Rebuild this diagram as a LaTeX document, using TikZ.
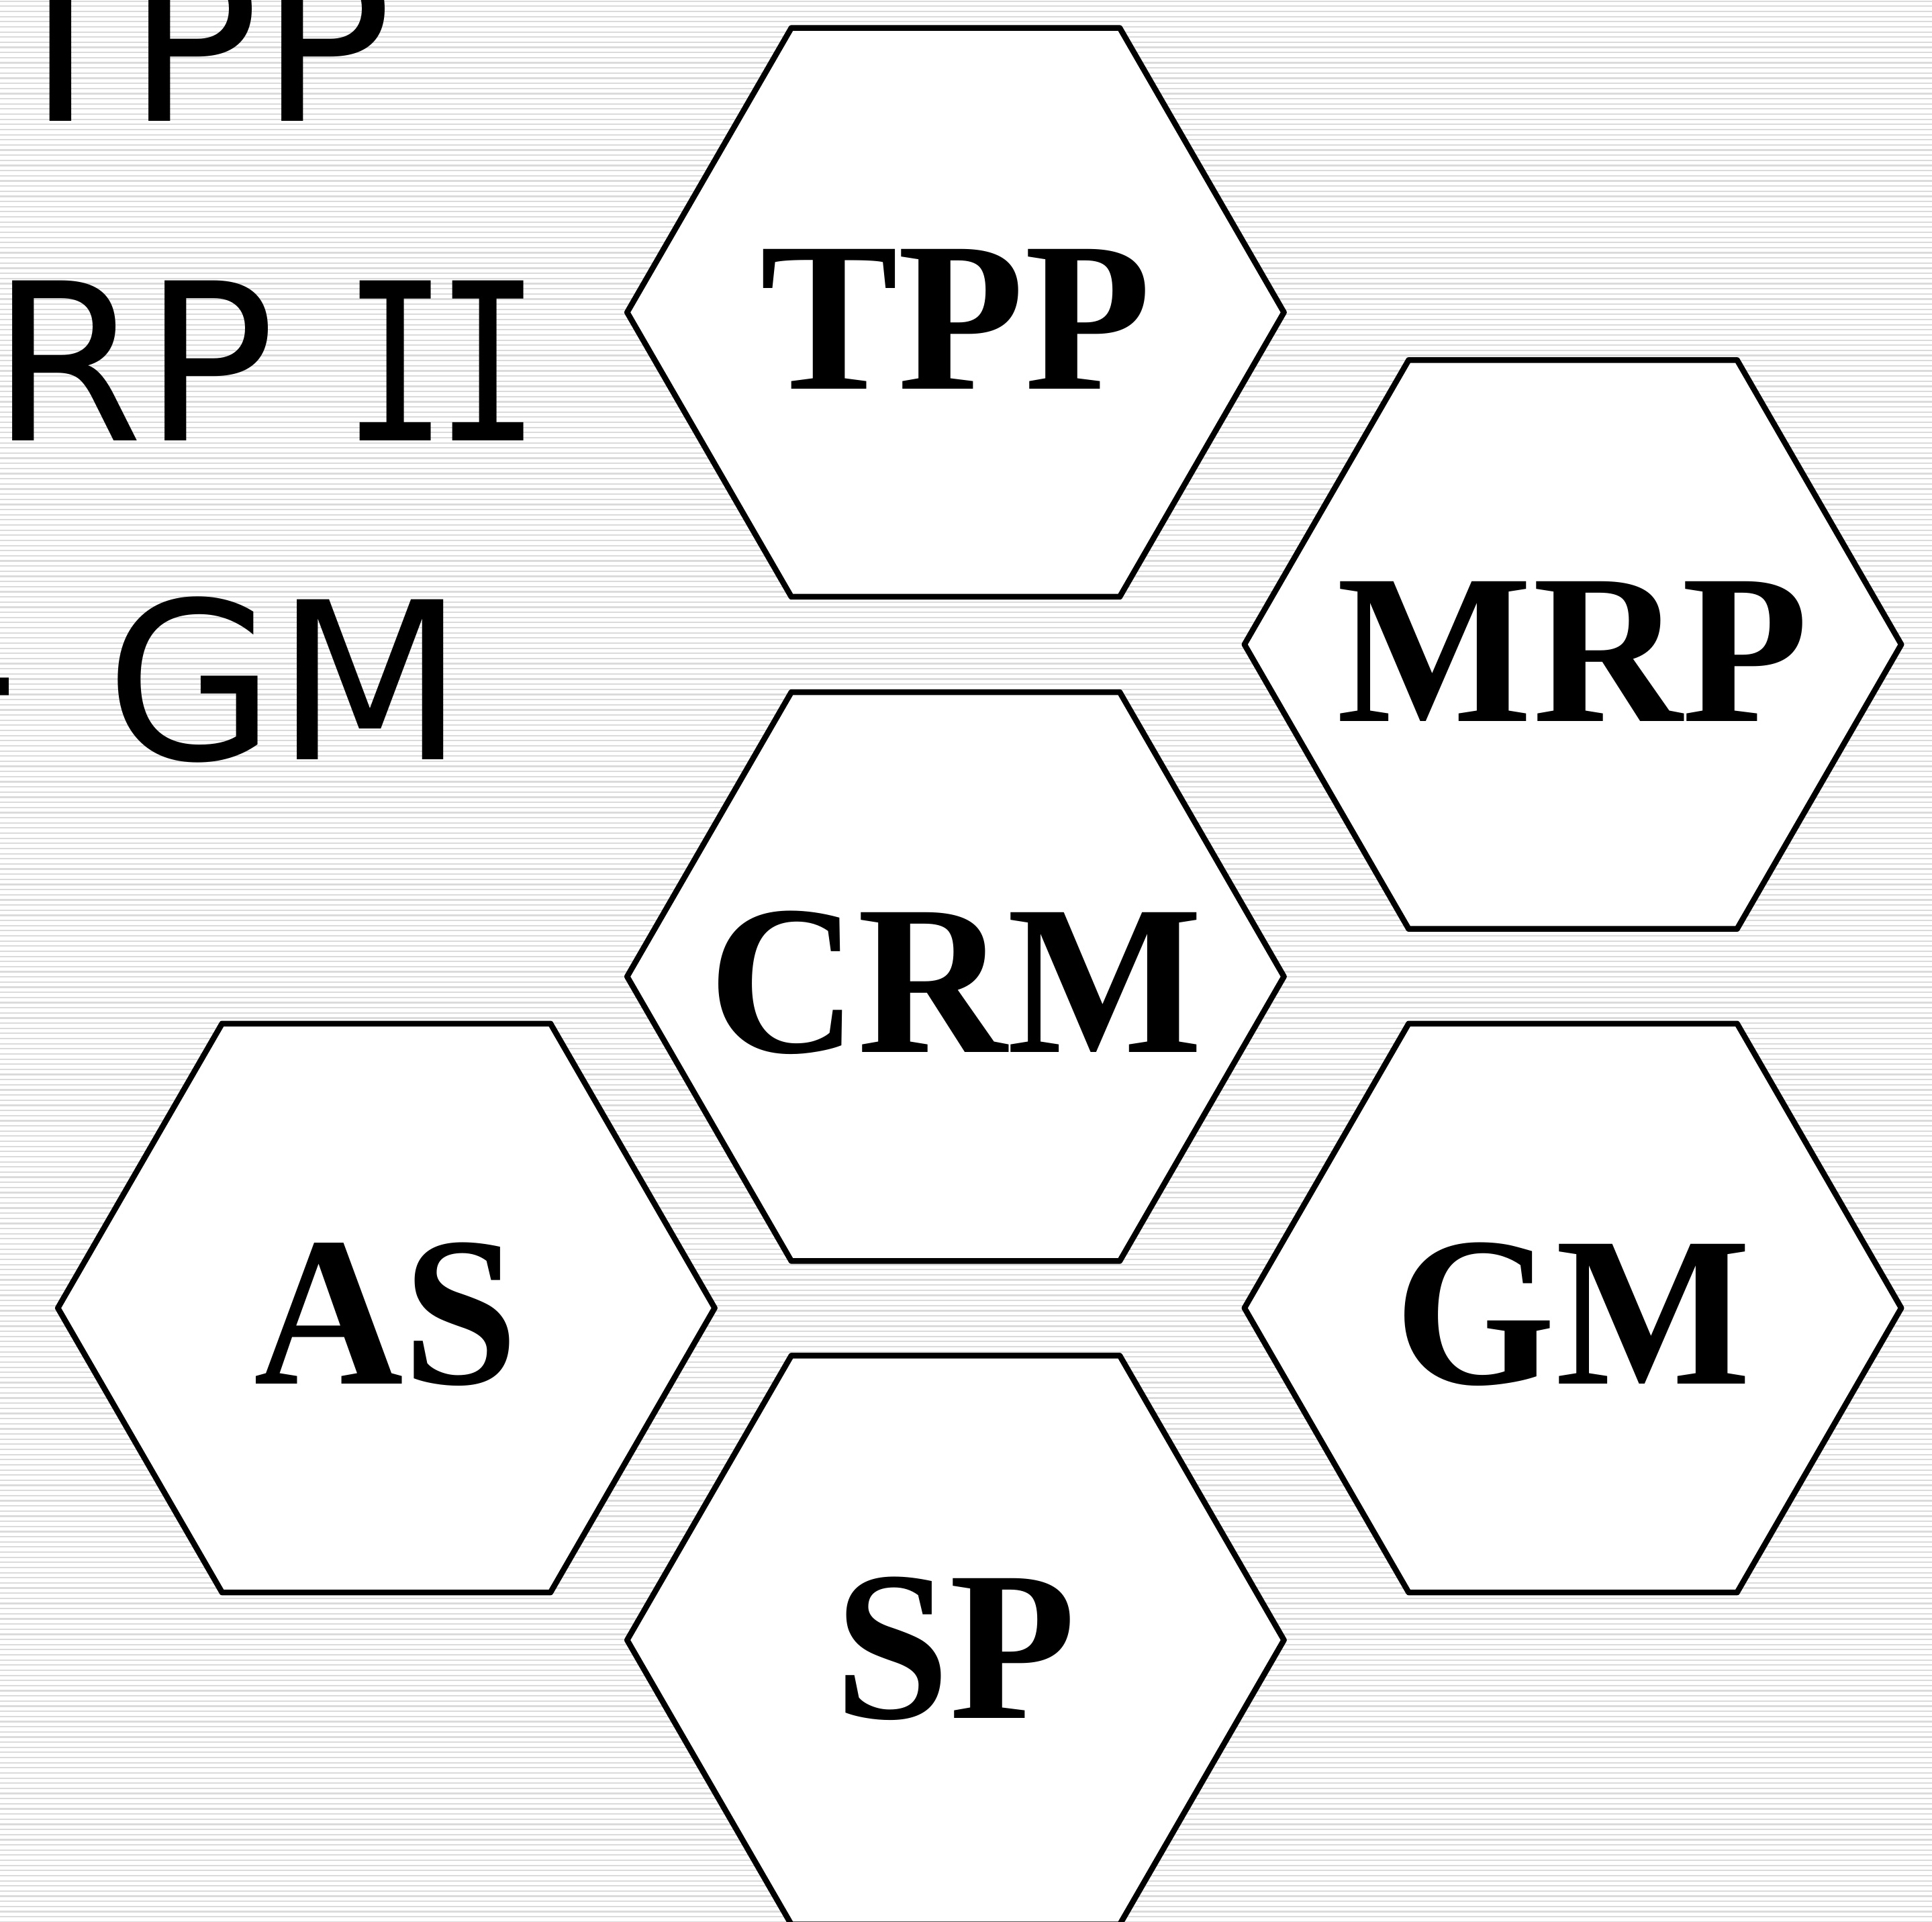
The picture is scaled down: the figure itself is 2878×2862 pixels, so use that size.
\documentclass[tikz,border=0pt]{standalone}
\usepackage{fontspec}
\usetikzlibrary{shapes.geometric,calc}
\newfontfamily\hexfont{Liberation Serif Bold}[FakeStretch=0.97]
\newfontfamily\sidefont{DejaVu Sans}
\newfontfamily\sidemono{DejaVu Sans Mono}
\newcommand{\serifI}{\scalebox{0.8}[1]{\sidemono I}}
\definecolor{stripe}{RGB}{219,219,219}
\begin{document}
\begin{tikzpicture}[x=1pt,y=-1pt,
  hexa/.style={regular polygon, regular polygon sides=6, minimum size=978.4pt,
    draw=black, line width=8.5pt, line join=round, fill=white, inner sep=0pt, outer sep=0pt},
  hexlabel/.style={anchor=base, inner sep=0pt, font=\hexfont\fontsize{318}{318}\selectfont},
  sidelabel/.style={anchor=base west, inner sep=0pt, font=\sidefont\fontsize{327}{327}\selectfont}]
\useasboundingbox (0,0) rectangle (2878,2862);
\clip (0,0) rectangle (2878,2862);
\fill[white] (0,0) rectangle (2878,2862);
\foreach \i in {0,...,376} {
  \fill[stripe] (0,{0.6+\i*7.65}) rectangle (2878,{0.6+\i*7.65+2.2});
}
% left text
\node[sidelabel] (l1) at (-10,180.6) {TPP};
\node[sidelabel] (l2) at (-14,656) {RP\hspace{99.7pt}\serifI\hspace{-19.4pt}\serifI};
\node[sidelabel] (l3) at (-89,1131) {\raisebox{19pt}{-}\hspace{128pt}GM};
% hexagons
\node[hexa] (hTPP) at (1423.4,465.3) {};
\node[hexa] (hMRP) at (2343.0,960.0) {};
\node[hexa] (hCRM) at (1423.4,1454.7) {};
\node[hexa] (hAS)  at (575.4,1948.4) {};
\node[hexa] (hGM)  at (2343.0,1948.4) {};
\node[hexa] (hSP)  at (1423.4,2443.0) {};
% labels
\node[hexlabel] (tTPP) at ($(hTPP.center)+(0,114)$) {TPP};
\node[hexlabel] (tMRP) at ($(hMRP.center)+(0,114)$) {MRP};
\node[hexlabel] (tCRM) at ($(hCRM.center)+(0,113)$) {CRM};
\node[hexlabel] (tAS)  at ($(hAS.center)+(0,113)$) {AS};
\node[hexlabel] (tGM)  at ($(hGM.center)+(0,113)$) {GM};
\node[hexlabel] (tSP)  at ($(hSP.center)+(0,116)$) {SP};
\end{tikzpicture}
\end{document}
